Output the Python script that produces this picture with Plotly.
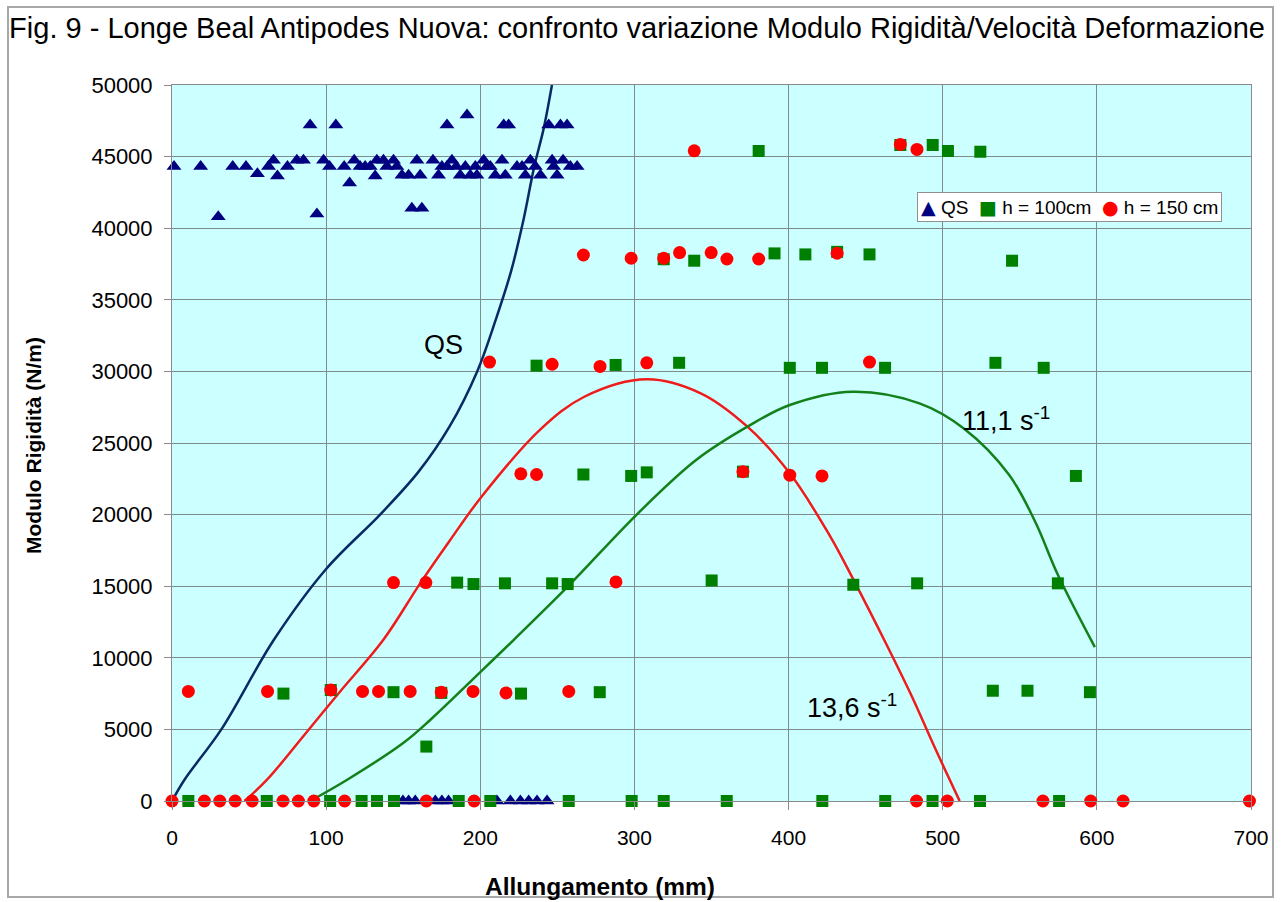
import plotly.graph_objects as go

# ---------------- data ----------------
qs_x = [1.3, 18.6, 39.4, 48, 55.4, 62.6, 65.8, 68.4, 74.9, 81, 85.3, 98.3, 102.2, 111.7, 115.2, 118.2,
        122, 125.3, 128.6, 131.8, 132.9, 137.2, 139.4, 143.7, 145.9, 149.2, 153.5, 158.9, 161, 169.3,
        172.9, 175.1, 178.4, 181.6, 184.4, 187, 190.3, 193.5, 196.8, 197.8, 202.2, 204.3, 206.5, 209.7,
        214.1, 216.2, 223.8, 227.1, 229.2, 232.5, 235.7, 239, 246.6, 247.6, 249.8, 253.7, 258.4, 262.8,
        89.6, 106.3, 178.4, 191.4, 215.2, 218.4, 244.4, 252, 256.3,
        30, 94, 155.6, 162.1,
        149.8, 153.5, 157.8, 170.8, 175.1, 179.4, 210.8, 219.5, 226, 231.4, 236.8, 243.3]
qs_y = [44300, 44300, 44300, 44300, 43800, 44300, 44750, 43650, 44300, 44750, 44750, 44750, 44300, 44300, 43150, 44750,
        44300, 44300, 44300, 43650, 44750, 44750, 44300, 44750, 44300, 43700, 43700, 44750, 43700, 44750,
        43700, 44300, 44300, 44750, 44300, 43700, 44300, 43700, 44300, 43700, 44750, 44300, 44300, 43700,
        44750, 43700, 44300, 44300, 43700, 44750, 44300, 43700, 44750, 44300, 43700, 44750, 44300, 44300,
        47200, 47200, 47200, 47900, 47200, 47200, 47200, 47200, 47200,
        40800, 41000, 41400, 41400,
        0, 0, 0, 0, 0, 0, 0, 0, 0, 0, 0, 0]

h100_x = [10.6, 61.5, 102.6, 123, 133, 144, 186, 206.5, 257.4, 298.2, 319, 359.9, 421.9, 462.7, 493.4, 524.2, 575.5,
          165,
          72.3, 103, 143.7, 174.7, 226.4, 277.5, 532.5, 555, 595.5,
          185, 195.6, 216, 246.6, 256.7, 350.1, 442, 483.4, 574.7,
          266.9, 297.9, 308, 370.4, 586.4,
          236.5, 287.8, 329, 400.8, 421.7, 462.6, 534.2, 565.5,
          319, 338.8, 390.9, 410.9, 431.5, 452.5, 545,
          380.6, 472.5, 493.5, 503.4, 524.4]
h100_y = [0, 0, 0, 0, 0, 0, 0, 0, 0, 0, 0, 0, 0, 0, 0, 0, 0,
          3800,
          7500, 7750, 7600, 7550, 7500, 7600, 7700, 7700, 7600,
          15250, 15150, 15200, 15200, 15150, 15400, 15100, 15200, 15200,
          22800, 22700, 22950, 23000, 22700,
          30400, 30450, 30600, 30250, 30250, 30250, 30600, 30250,
          37830, 37730, 38240, 38170, 38350, 38170, 37730,
          45390, 45810, 45810, 45390, 45340]

h150_x = [0, 21, 31, 41, 52, 72, 82, 92, 112, 165, 196, 483, 503, 565, 596, 617, 699,
          10.6, 62, 103, 123.6, 134, 154.5, 174.7, 195.3, 216.7, 257.4,
          143.7, 164.7, 288,
          226.3, 236.5, 370.4, 400.8, 421.7,
          206, 246.6, 277.7, 308, 452.5,
          266.9, 297.9, 319, 329.3, 349.8, 360, 380.6, 431.5,
          338.8, 472.5, 483.3]
h150_y = [0, 0, 0, 0, 0, 0, 0, 0, 0, 0, 0, 0, 0, 0, 0, 0, 0,
          7650, 7650, 7750, 7650, 7650, 7650, 7600, 7650, 7550, 7650,
          15250, 15250, 15300,
          22850, 22800, 23000, 22750, 22700,
          30650, 30500, 30350, 30600, 30650,
          38130, 37900, 37900, 38300, 38300, 37850, 37850, 38250,
          45400, 45850, 45500]

# trend curves
curve_qs_x = [0, 8, 32, 66, 100, 135, 160, 180, 198, 210, 220, 228, 235, 241, 246.5]
curve_qs_y = [0, 1470, 5000, 11240, 16200, 20000, 23000, 26140, 30000, 33600, 37000, 40570, 44300, 46900, 50000]

curve_136_x = [47, 61.5, 88.5, 108.7, 137, 161, 180.5, 200.8, 238.5, 267.5, 308, 343, 373.3, 400.8,
               426.9, 441.4, 463.2, 480, 495, 511]
curve_136_y = [0, 1470, 4960, 7600, 11240, 15200, 18230, 21250, 25900, 28230, 29450, 28470, 26140, 22880,
               18500, 15600, 11000, 7300, 3700, 0]

curve_111_x = [89.6, 113.4, 150, 167.5, 200, 221.6, 257, 302.3, 340, 373.3, 400.8, 441.4, 484.9, 513.9,
               542.9, 560, 574.7, 598.7]
curve_111_y = [0, 1470, 4050, 5660, 9000, 11240, 15000, 20090, 23810, 26140, 27650, 28580, 27770, 26000,
               22800, 19500, 15800, 10750]

series_names = ["QS", "h = 100cm", "h = 150 cm"]
title_text = "Fig. 9 - Longe Beal Antipodes Nuova: confronto variazione Modulo Rigidità/Velocità Deformazione"
x_title = "Allungamento (mm)"
y_title = "Modulo Rigidità (N/m)"

# ---------------- figure ----------------
FONT = "Liberation Sans, Arial, sans-serif"
NAVY = "#000080"
GREEN = "#008000"
RED = "#FF0000"

fig = go.Figure()

fig.add_trace(go.Scatter(x=curve_qs_x, y=curve_qs_y, mode="lines", line=dict(color="#0A2A66", width=2.5, shape="spline"),
                         showlegend=False, hoverinfo="skip"))
fig.add_trace(go.Scatter(x=curve_136_x, y=curve_136_y, mode="lines", line=dict(color="#EE1C1C", width=2.5, shape="spline"),
                         showlegend=False, hoverinfo="skip"))
fig.add_trace(go.Scatter(x=curve_111_x, y=curve_111_y, mode="lines", line=dict(color="#13801A", width=2.5, shape="spline"),
                         showlegend=False, hoverinfo="skip"))

fig.add_trace(go.Scatter(x=qs_x, y=qs_y, mode="markers", name=series_names[0], showlegend=False,
                         marker=dict(symbol="triangle-up", size=13, color=NAVY, line=dict(width=0)),
                         cliponaxis=False))
fig.add_trace(go.Scatter(x=h100_x, y=h100_y, mode="markers", name=series_names[1], showlegend=False,
                         marker=dict(symbol="square", size=12, color=GREEN, line=dict(width=0)),
                         cliponaxis=False))
fig.add_trace(go.Scatter(x=h150_x, y=h150_y, mode="markers", name=series_names[2], showlegend=False,
                         marker=dict(symbol="circle", size=13, color=RED, line=dict(width=0)),
                         cliponaxis=False))

L, R, T, B = 172, 31, 85, 101
W, H = 1282, 902
pw, ph = W - L - R, H - T - B

def px_x(px):
    return (px - L) / pw

def px_y(py):
    return (H - B - py) / ph

SYM = "font-family:DejaVu Sans;font-size:19px"
legend_text = ("<span style='color:%s;%s'>▲</span> %s&nbsp; "
               "<span style='color:%s;%s'>■</span> %s&nbsp; "
               "<span style='color:%s;%s'>●</span> %s") % (
    NAVY, SYM, series_names[0], GREEN, SYM, series_names[1], RED, SYM, series_names[2])

fig.update_layout(
    width=W, height=H,
    margin=dict(l=L, r=R, t=T, b=B),
    paper_bgcolor="white",
    plot_bgcolor="#CCFFFF",
    font=dict(family=FONT, color="black"),
    title=dict(text=title_text, x=637 / W, xanchor="center", y=1 - 28 / H, yanchor="middle",
               font=dict(size=29, family=FONT, color="black")),
    showlegend=False,
    xaxis=dict(range=[0, 700], dtick=100, tick0=0, showgrid=True, gridcolor="#7F8C8C", gridwidth=1,
               showline=True, linecolor="#8A8A8A", linewidth=1, mirror=True,
               ticks="outside", ticklen=8, tickcolor="#8A8A8A", ticklabelstandoff=10,
               tickfont=dict(size=21, family=FONT, color="black"), zeroline=False),
    yaxis=dict(range=[0, 50000], dtick=5000, tick0=0, tickformat="d", showgrid=True, gridcolor="#7F8C8C",
               gridwidth=1, showline=True, linecolor="#8A8A8A", linewidth=1, mirror=True,
               ticks="outside", ticklen=7, tickcolor="#8A8A8A", ticklabelstandoff=7,
               tickfont=dict(size=22, family=FONT, color="black"), zeroline=False),
    annotations=[
        dict(text="<b>" + x_title + "</b>", xref="paper", yref="paper", x=px_x(600), y=px_y(886),
             xanchor="center", yanchor="middle", showarrow=False, font=dict(size=24.5, family=FONT)),
        dict(text="<b>" + y_title + "</b>", xref="paper", yref="paper", x=px_x(33), y=px_y(446),
             xanchor="center", yanchor="middle", textangle=-90, showarrow=False, font=dict(size=21, family=FONT)),
        dict(text="QS", x=176, y=31840, xref="x", yref="y", showarrow=False, font=dict(size=27, family=FONT)),
        dict(text="11,1 s<sup>-1</sup>", x=541, y=26700, xref="x", yref="y", showarrow=False,
             font=dict(size=27, family=FONT)),
        dict(text="13,6 s<sup>-1</sup>", x=441, y=6600, xref="x", yref="y", showarrow=False,
             font=dict(size=27, family=FONT)),
        dict(text=legend_text, xref="paper", yref="paper", x=px_x(917), y=px_y(192), xanchor="left",
             yanchor="top", showarrow=False, bgcolor="white", bordercolor="#909090", borderwidth=1,
             borderpad=3, font=dict(size=19, family=FONT, color="black")),
    ],
    shapes=[
        dict(type="rect", xref="paper", yref="paper", x0=px_x(8), x1=px_x(1273), y0=px_y(897), y1=px_y(7),
             line=dict(color="#A8A8A8", width=2), fillcolor="rgba(0,0,0,0)", layer="below"),
    ],
)

fig.write_html("out.html")
